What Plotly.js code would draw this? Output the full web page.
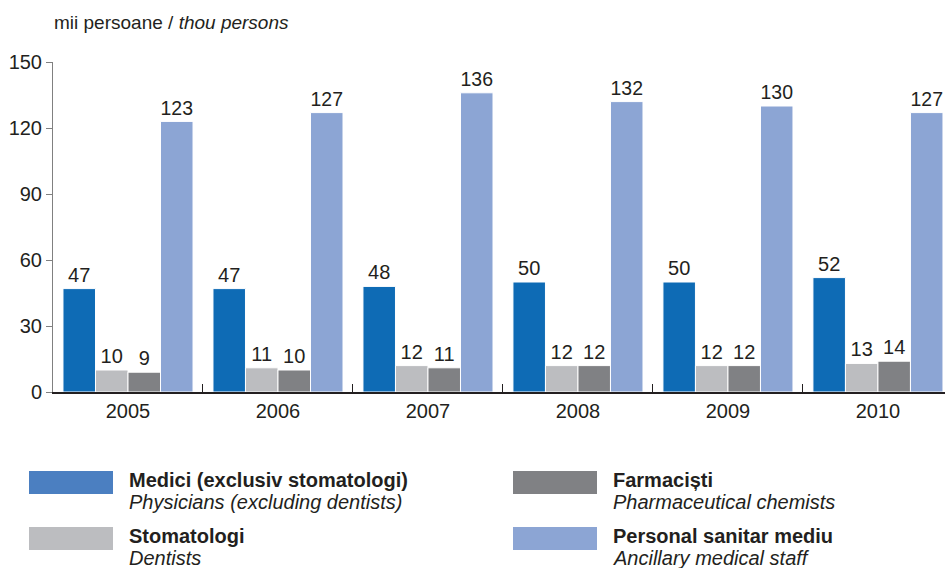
<!DOCTYPE html>
<html><head><meta charset="utf-8">
<script src="https://cdn.plot.ly/plotly-3.0.1.min.js"></script>
<style>body{margin:0;background:#fff}#c{width:945px;height:568px}</style>
</head><body><div id="c"></div>
<script>
const years = ['2005','2006','2007','2008','2009','2010'];
const medici = [47,47,48,50,50,52];
const stomatologi = [10,11,12,12,12,13];
const farmacisti = [9,10,11,12,12,14];
const personal = [123,127,136,132,130,127];
const namesRo = ['Medici (exclusiv stomatologi)','Stomatologi','Farmaciști','Personal sanitar mediu'];
const namesEn = ['Physicians (excluding dentists)','Dentists','Pharmaceutical chemists','Ancillary medical staff'];
const barColors = ['#0e6bb5','#bcbdc0','#808184','#8ca5d4'];
const legendColors = ['#4b7fc1','#bcbdc0','#808184','#8ca5d4'];
const yTicks = [0,30,60,90,120,150];

const series = [medici, stomatologi, farmacisti, personal];
const txt = '#231f20';
const FONT = 'Liberation Sans, Arial, Helvetica, sans-serif';
const traces = series.map((v,i)=>({
  type:'bar', x:years, y:v, name:namesRo[i],
  marker:{color:barColors[i], line:{color:'#ffffff', width:1}},
  text:v.map(String), textposition:'outside', cliponaxis:false,
  textfont:{family:FONT, size:20, color:txt},
  hoverinfo:'skip'
}));

const L=53, R=945, T=62, B=392;
const px = x => (x-L)/(R-L);
const py = y => (B-y)/(B-T);

const shapes=[], annotations=[];
annotations.push({xref:'paper',yref:'paper',x:px(52),y:py(22),xanchor:'left',yanchor:'middle',
  text:'mii persoane / <i>thou persons</i>',showarrow:false,font:{family:FONT,size:19,color:txt}});
const legPos=[[29,471],[29,527],[513,471],[513,527]];
legPos.forEach(([lx,ly],i)=>{
  shapes.push({type:'rect',xref:'paper',yref:'paper',x0:px(lx),x1:px(lx+84),y0:py(ly),y1:py(ly+23),
    fillcolor:legendColors[i],line:{width:0}});
  annotations.push({xref:'paper',yref:'paper',x:px(lx+98),y:py(ly+9),xanchor:'left',yanchor:'middle',
    text:'<b>'+namesRo[i]+'</b>',showarrow:false,font:{family:FONT,size:20,color:txt}});
  annotations.push({xref:'paper',yref:'paper',x:px(lx+98),y:py(ly+31),xanchor:'left',yanchor:'middle',
    text:'<i>'+namesEn[i]+'</i>',showarrow:false,font:{family:FONT,size:20,color:txt}});
});

const layout={
  width:945,height:568,
  margin:{l:L,r:945-R,t:T,b:568-B},
  paper_bgcolor:'#fff',plot_bgcolor:'#fff',
  showlegend:false,
  barmode:'group',bargap:0.133,bargroupgap:0,
  font:{family:FONT,color:txt},
  xaxis:{type:'category',range:[-0.5,5.447],showgrid:false,zeroline:false,
    showline:true,linecolor:txt,linewidth:1.5,
    ticks:'inside',tickson:'boundaries',ticklen:8,tickcolor:txt,tickwidth:1,
    tickfont:{family:FONT,size:20,color:txt},fixedrange:true},
  yaxis:{range:[0,150],tickvals:yTicks,ticktext:yTicks.map(String),showgrid:false,zeroline:false,
    showline:true,linecolor:'#808080',linewidth:1,
    ticks:'outside',ticklen:6,tickcolor:'#808080',
    tickfont:{family:FONT,size:20,color:txt},fixedrange:true},
  shapes:shapes,annotations:annotations
};
Plotly.newPlot('c',traces,layout,{displayModeBar:false,staticPlot:true});
</script></body></html>
